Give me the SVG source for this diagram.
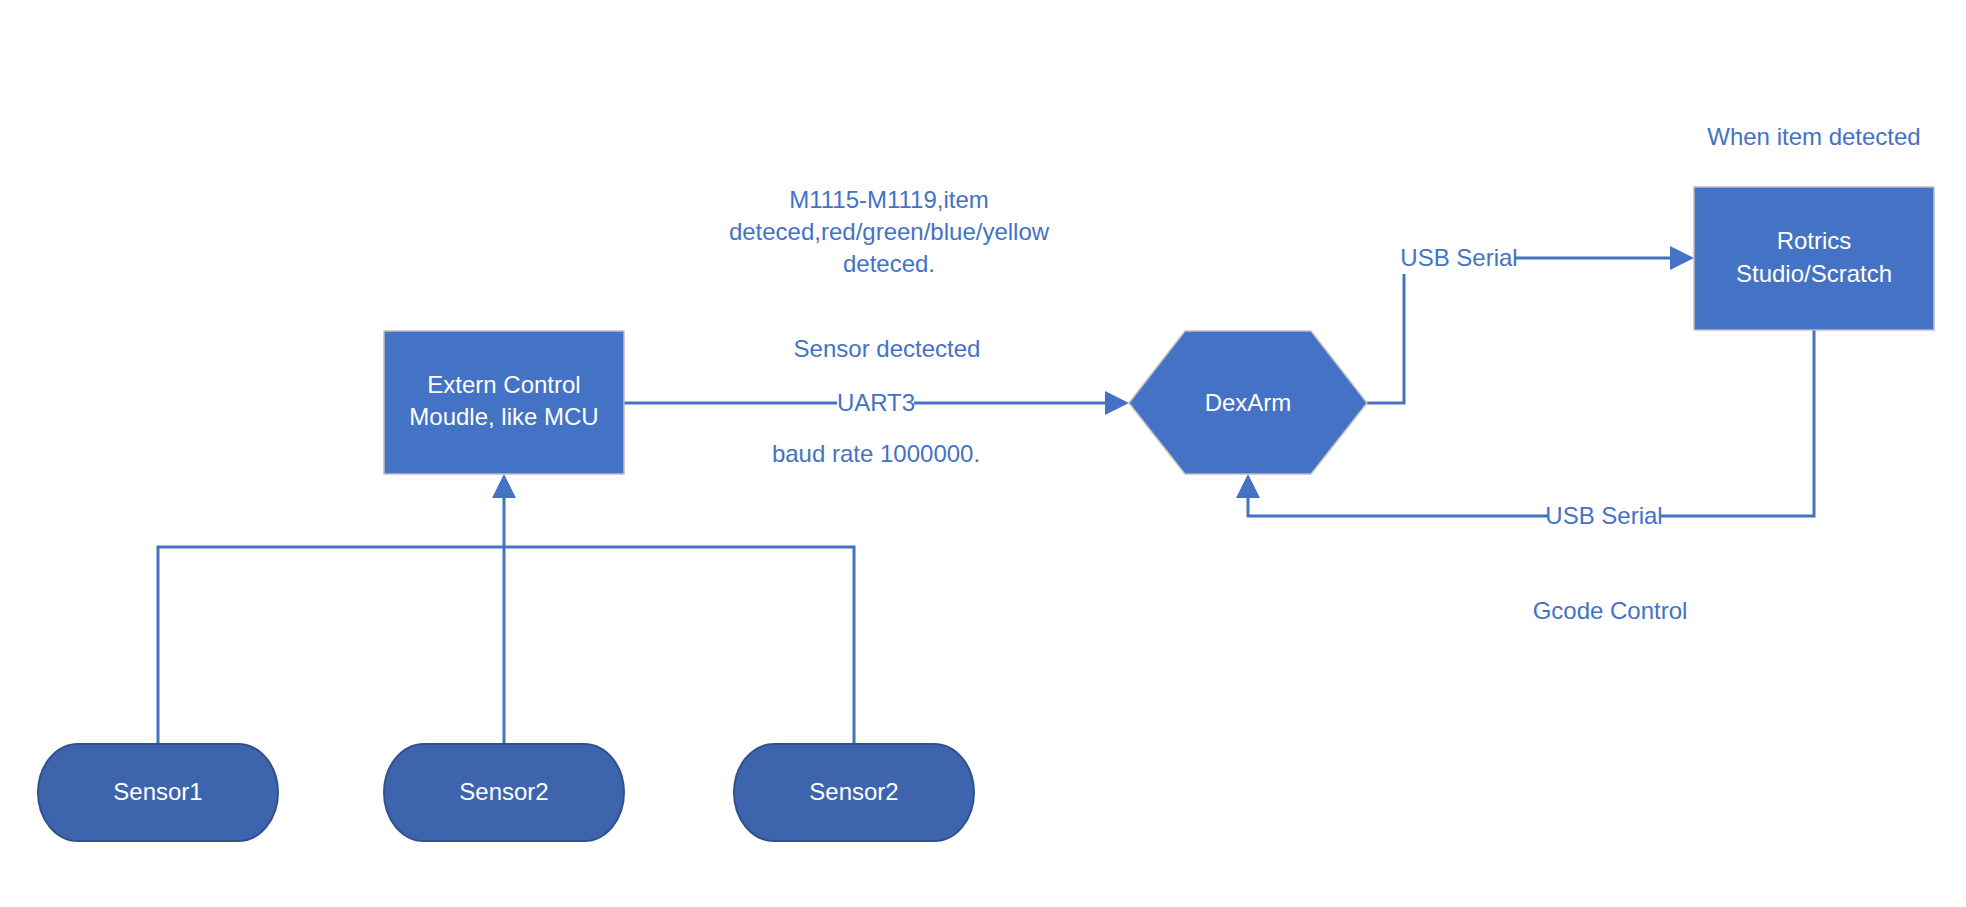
<svg xmlns="http://www.w3.org/2000/svg" width="1966" height="907" viewBox="0 0 1966 907">
<style>
.box{fill:#4472C4;stroke:#BFBFBF;stroke-width:1.5}
.pill{fill:#3E64AD;stroke:#2F528F;stroke-width:2}
.wt{font-family:"Liberation Sans",Arial,sans-serif;font-size:24px;fill:#FFFFFF;text-anchor:middle}
.bt{font-family:"Liberation Sans",Arial,sans-serif;font-size:24px;fill:#4472C4;text-anchor:middle}
.conn{fill:none;stroke:#4472C4;stroke-width:3}
.bg{fill:#FFFFFF}
</style>
<defs>
<marker id="arr" markerUnits="userSpaceOnUse" markerWidth="24" markerHeight="24" refX="0" refY="12" orient="auto" viewBox="0 0 24 24">
<path d="M0,0 L24,12 L0,24 z" fill="#4472C4"/>
</marker>
</defs>
<rect width="1966" height="907" fill="#FFFFFF"/>
<g id="connectors">
<path class="conn" d="M624,403 H1105" marker-end="url(#arr)"/>
<path class="conn" d="M1367,403 H1404 V258 H1670" marker-end="url(#arr)"/>
<path class="conn" d="M1814,330 V516 H1248 V498" marker-end="url(#arr)"/>
<path class="conn" d="M158,744 V547 H854 V744"/>
<path class="conn" d="M504,744 V498" marker-end="url(#arr)"/>
<rect class="bg" x="837" y="388" width="77" height="30"/>
<text class="bt" x="876" y="411">UART3</text>
<rect class="bg" x="1401" y="243" width="114" height="31"/>
<text class="bt" x="1459" y="266">USB Serial</text>
<rect class="bg" x="1548" y="500" width="113" height="30"/>
<text class="bt" x="1604" y="524">USB Serial</text>
</g>
<g id="extern">
<rect class="box" x="384" y="331" width="240" height="143"/>
<text class="wt" x="504" y="393">Extern Control</text>
<text class="wt" x="504" y="425">Moudle, like MCU</text>
</g>
<g id="dexarm">
<polygon class="box" points="1129,403 1185,331 1311,331 1367,403 1311,474 1185,474"/>
<text class="wt" x="1248" y="411">DexArm</text>
</g>
<g id="rotrics">
<rect class="box" x="1694" y="187" width="240" height="143"/>
<text class="wt" x="1814" y="249">Rotrics</text>
<text class="wt" x="1814" y="282">Studio/Scratch</text>
</g>
<g id="sensor1">
<rect class="pill" x="38" y="744" width="240" height="97" rx="40" ry="48.5"/>
<text class="wt" x="158" y="800">Sensor1</text>
</g>
<g id="sensor2a">
<rect class="pill" x="384" y="744" width="240" height="97" rx="40" ry="48.5"/>
<text class="wt" x="504" y="800">Sensor2</text>
</g>
<g id="sensor2b">
<rect class="pill" x="734" y="744" width="240" height="97" rx="40" ry="48.5"/>
<text class="wt" x="854" y="800">Sensor2</text>
</g>
<g id="labels">
<text class="bt" x="1814" y="145">When item detected</text>
<text class="bt" x="889" y="208">M1115-M1119,item</text>
<text class="bt" x="889" y="240">deteced,red/green/blue/yellow</text>
<text class="bt" x="889" y="272">deteced.</text>
<text class="bt" x="887" y="357">Sensor dectected</text>
<text class="bt" x="876" y="462">baud rate 1000000.</text>
<text class="bt" x="1610" y="619">Gcode Control</text>
</g>
</svg>
